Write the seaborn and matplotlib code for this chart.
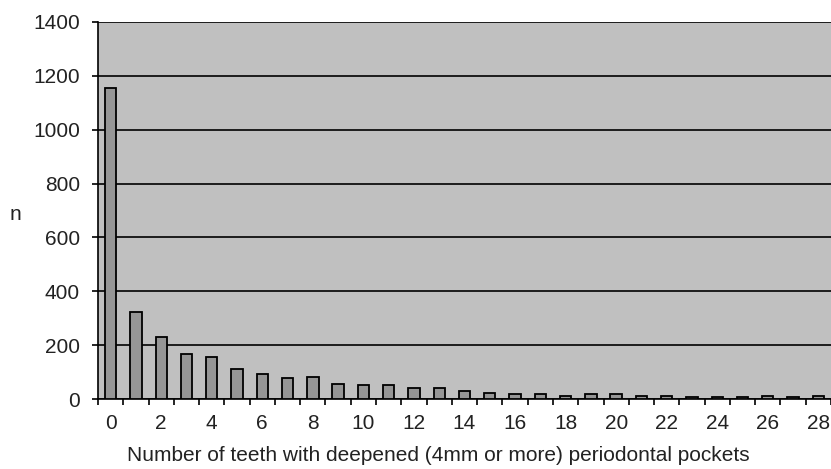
import numpy as np
import pandas as pd
import seaborn as sns
import matplotlib.pyplot as plt

# Data
teeth = list(range(29))
counts = [1156, 324, 231, 167, 157, 111, 93, 77, 82, 55,
          53, 53, 41, 41, 30, 23, 18, 18, 12, 18,
          19, 12, 12, 6, 6, 6, 12, 6, 12]
x_labels = [str(t) if t % 2 == 0 else "" for t in teeth]
y_ticks = [0, 200, 400, 600, 800, 1000, 1200, 1400]

df = pd.DataFrame({"teeth": teeth, "n": counts})

sns.set_style("white")
plt.rcParams["font.family"] = ["Liberation Sans", "DejaVu Sans"]
text_color = "#222222"

fig = plt.figure(figsize=(8.31, 4.69), dpi=100)
ax = fig.add_axes([98 / 831, 70 / 469, 733 / 831, 377 / 469])
ax.set_facecolor("#c0c0c0")

sns.barplot(data=df, x="teeth", y="n", color="#969696", edgecolor="black",
            linewidth=1.3, width=0.45, saturation=1, ax=ax, zorder=3)

# horizontal gridlines
ax.set_ylim(0, 1400)
ax.set_yticks(y_ticks)
ax.yaxis.grid(True, color="black", linewidth=1.2, zorder=1)
ax.set_axisbelow(True)

ax.set_xlim(-0.5, 28.5)
ax.set_xticks(teeth)
ax.set_xticklabels(x_labels)
ax.set_xticks(np.arange(-0.5, 29, 1), minor=True)
ax.tick_params(axis="x", which="both", bottom=True)
ax.tick_params(axis="y", which="both", left=True)
ax.tick_params(axis="x", which="major", length=0, labelsize=15, pad=11, labelcolor=text_color)
ax.tick_params(axis="x", which="minor", length=4, width=1.2, color="black", direction="out")
ax.tick_params(axis="y", which="major", length=4.5, width=1.2, color="black",
               direction="out", labelsize=15, pad=8.5, labelcolor=text_color)

for side in ["left", "bottom"]:
    ax.spines[side].set_color("black")
    ax.spines[side].set_linewidth(1.2)
ax.spines["top"].set_visible(False)
ax.spines["right"].set_visible(False)

ax.set_xlabel("Number of teeth with deepened (4mm or more) periodontal pockets",
              fontsize=15, color=text_color)
ax.xaxis.set_label_coords(0.464, -0.125)
ax.set_ylabel("n", fontsize=15, rotation=0, color=text_color, ha="center", va="center")
ax.yaxis.set_label_coords(-0.112, 0.49)

fig.savefig("out.png", dpi=100)
